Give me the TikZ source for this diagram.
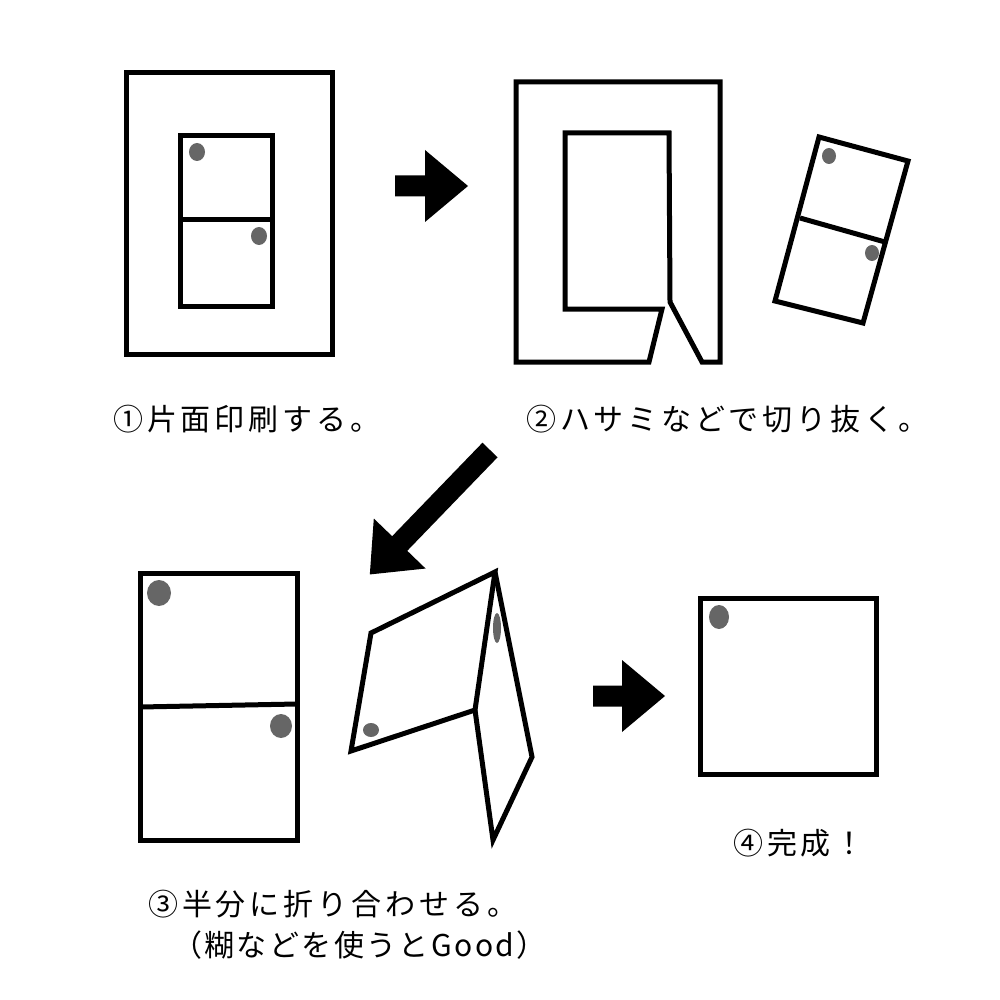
\documentclass[tikz,border=0pt]{standalone}
\usepackage{fontspec}
\newfontfamily\jpfont{Noto Sans CJK JP}[LetterSpace=13]
\newfontfamily\jpfontnarrow{Noto Sans CJK JP}[LetterSpace=8]
\definecolor{dotgray}{RGB}{102,102,102}

% block arrow along +x, tail at the origin
\newcommand{\bigarrow}[1]{%
  \fill[blockarrow] (0,-10.5) -- ({#1-43},-10.5) -- ({#1-43},-36) -- (#1,0)
    -- ({#1-43},36) -- ({#1-43},10.5) -- (0,10.5) -- cycle;}

\begin{document}
\begin{tikzpicture}[
    x=1pt, y=-1pt,
    card/.style={draw, line width=5pt, line join=miter},
    dot/.style={fill=dotgray},
    blockarrow/.style={fill=black},
    steplabel/.style={font=\jpfont\fontsize{30}{38}\selectfont, anchor=west, inner sep=0pt}
]
\useasboundingbox (0,0) rectangle (1000,1000);

% step 1: printed sheet
\draw[card] (126,73) rectangle (332,354);
\draw[card] (180,136) rectangle (272,306);
\draw[card] (180,220) -- (272,220);
\fill[dot] (197,152) ellipse [x radius=8, y radius=9];
\fill[dot] (259,236) ellipse [x radius=8, y radius=9];

\begin{scope}[shift={(395,186)}]
  \bigarrow{73}
\end{scope}

% step 2: sheet with the card cut out
\draw[card] (649,362) -- (516,362) -- (516,82) -- (720,82) -- (720,362) -- (702,362)
  -- (670,302) -- (669,133) -- (565,133) -- (565,309) -- (662,309) -- cycle;
\draw[card] (819,137) -- (908,161) -- (863,323) -- (775,301) -- cycle;
\draw[card] (800,218) -- (885,242);
\fill[dot] (829,156) ellipse [x radius=7, y radius=8];
\fill[dot] (872,253) ellipse [x radius=7, y radius=8];

\begin{scope}[shift={(490,450)}, rotate=226]
  \bigarrow{173}
\end{scope}

% step 3: folding in half
\draw[card] (140,573) rectangle (297,840);
\draw[card] (140,707) -- (297,704);
\fill[dot] (159,593) ellipse [x radius=12, y radius=13];
\fill[dot] (281,726) ellipse [x radius=11, y radius=12];

\draw[card] (495,572) -- (371,633) -- (351,751) -- (475,710) -- cycle;
\draw[card] (475,710) -- (493,840) -- (532,757) -- (495,572);
\fill[dot] (371,730) ellipse [x radius=8, y radius=7];
\fill[dot] (497,628) ellipse [x radius=4, y radius=15];

\begin{scope}[shift={(593,696)}]
  \bigarrow{72}
\end{scope}

% step 4: finished card
\draw[card] (700,598) rectangle (876,774);
\fill[dot] (719,617) ellipse [x radius=10, y radius=12];

% labels
\node[steplabel] (label1) at (113,419) {①片面印刷する。};
\node[steplabel] (label2) at (526,419) {②ハサミなどで切り抜く。};
\node[steplabel] (label3) at (148,904) {③半分に折り合わせる。};
\node[steplabel, font=\jpfontnarrow\fontsize{30}{38}\selectfont] (label3b) at (172,945) {（糊などを使うとGood）};
\node[steplabel] (label4) at (733,843) {④完成！};

\end{tikzpicture}
\end{document}
